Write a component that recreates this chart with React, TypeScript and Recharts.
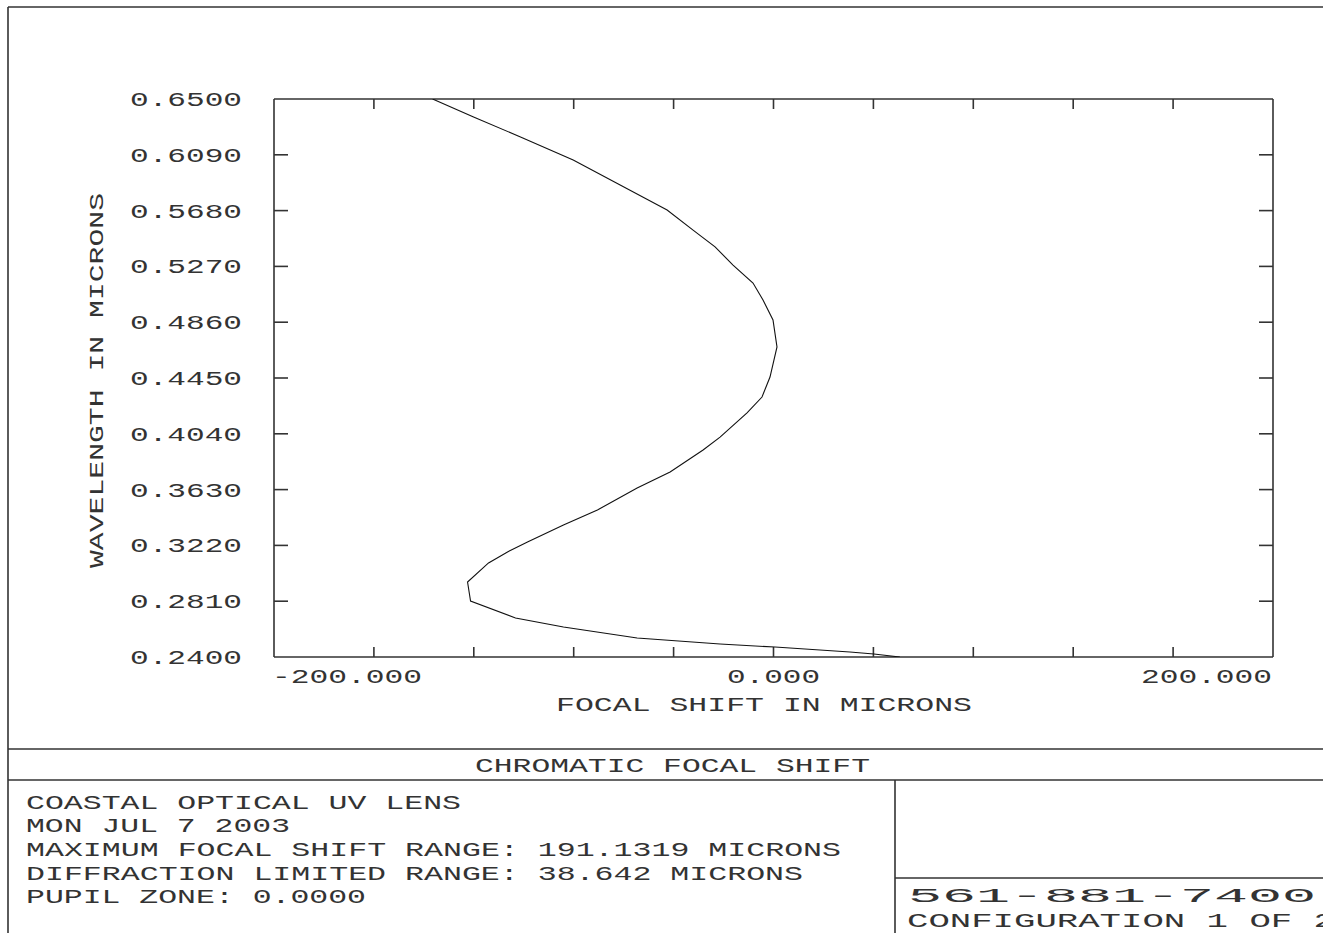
import React from "react";
import { ScatterChart, Scatter, XAxis, YAxis } from "recharts";

// Wavelength (microns) along the curve, from top to bottom
const wavelengths = [
  0.65, 0.6368, 0.6221, 0.6052, 0.5868, 0.5684, 0.5537, 0.5413, 0.528, 0.5148,
  0.5023, 0.4876, 0.4678, 0.4457, 0.431, 0.4193, 0.4016, 0.3921, 0.3759, 0.3642,
  0.348, 0.337, 0.3245, 0.3172, 0.3091, 0.2951, 0.2811, 0.2687, 0.262, 0.254,
  0.2496, 0.2473, 0.2437, 0.2422, 0.24,
];
// Focal shift (microns) for each wavelength above
const focalShift = [
  -136.5, -120.1, -101.3, -80.2, -61.4, -42.6, -32.2, -23.4, -16.2, -8.2,
  -4.2, -0.2, 1.4, -1.4, -4.6, -10.6, -21.4, -28.2, -41.4, -54.6,
  -70.5, -84.1, -98.5, -106.5, -114.1, -122.5, -121.3, -103.3, -84.1, -54.6,
  -21.4, 0.6, 30.6, 40.2, 50.6,
];

const xTicks = [-200, -160, -120, -80, -40, 0, 40, 80, 120, 160, 200];
const xInnerTicks = [-160, -120, -80, -40, 0, 40, 80, 120, 160];
const xLabeled = [-200, 0, 200];
const yTicks = [0.24, 0.281, 0.322, 0.363, 0.404, 0.445, 0.486, 0.527, 0.568, 0.609, 0.65];
const yInnerTicks = [0.281, 0.322, 0.363, 0.404, 0.445, 0.486, 0.527, 0.568, 0.609];

const xTitle = "FOCAL SHIFT IN MICRONS";
const yTitle = "WAVELENGTH IN MICRONS";
const chartTitle = "CHROMATIC FOCAL SHIFT";
const infoLines = [
  "COASTAL OPTICAL UV LENS",
  "MON JUL 7 2003",
  "MAXIMUM FOCAL SHIFT RANGE: 191.1319 MICRONS",
  "DIFFRACTION LIMITED RANGE: 38.642 MICRONS",
  "PUPIL ZONE: 0.0000",
];
const phone = "561-881-7400";
const configText = "CONFIGURATION 1 OF 2";

const points = wavelengths.map((wl, i) => ({ wl, shift: focalShift[i] }));

const TXT: React.CSSProperties = {
  fontFamily: "'Liberation Mono', 'DejaVu Sans Mono', monospace",
  fontSize: 21,
  fill: "#333",
};
const ADV = 19;
const len = (s: string, adv = ADV) => s.length * adv - 2;

const LINE = "#333";

const YTick = (props: any) => {
  const { x, y, payload } = props;
  const label = Number(payload.value).toFixed(4);
  return (
    <text x={x} y={y + 7} textAnchor="end" textLength={len(label)} lengthAdjust="spacingAndGlyphs" style={TXT}>
      {label}
    </text>
  );
};

const XTick = (props: any) => {
  const { x, y, payload } = props;
  const v = Number(payload.value);
  if (!xLabeled.includes(v)) return <g />;
  const label = v.toFixed(3);
  const anchor = v < 0 ? "start" : v > 0 ? "end" : "middle";
  const dx = v < 0 ? -2 : v > 0 ? -1 : 0;
  return (
    <text x={x + dx} y={y + 7} textAnchor={anchor} textLength={len(label)} lengthAdjust="spacingAndGlyphs" style={TXT}>
      {label}
    </text>
  );
};

const NoLabel = () => <g />;
const NoShape = () => <g />;

export default function App() {
  return (
    <div style={{ position: "fixed", left: 0, top: 0, width: 1323, height: 933, overflow: "hidden", background: "#fff" }}>
      <ScatterChart
        width={1323}
        height={933}
        margin={{ top: 99, left: 273, right: 50, bottom: 275 }}
      >
        <XAxis
          xAxisId="x"
          dataKey="shift"
          type="number"
          domain={[-200, 200]}
          ticks={xTicks}
          interval={0}
          allowDataOverflow
          orientation="bottom"
          height={1}
          tickSize={0}
          tickMargin={19}
          tickLine={false}
          axisLine={{ stroke: LINE, strokeWidth: 1.6 }}
          tick={<XTick />}
        />
        <XAxis
          xAxisId="xb"
          dataKey="shift"
          type="number"
          domain={[-200, 200]}
          ticks={xInnerTicks}
          interval={0}
          allowDataOverflow
          orientation="bottom"
          mirror
          height={1}
          tickSize={10}
          tick={<NoLabel />}
          axisLine={false}
          tickLine={{ stroke: LINE, strokeWidth: 1.6 }}
        />
        <XAxis
          xAxisId="xt"
          dataKey="shift"
          type="number"
          domain={[-200, 200]}
          ticks={xInnerTicks}
          interval={0}
          allowDataOverflow
          orientation="top"
          mirror
          height={1}
          tickSize={10}
          tick={<NoLabel />}
          axisLine={{ stroke: LINE, strokeWidth: 1.6 }}
          tickLine={{ stroke: LINE, strokeWidth: 1.6 }}
        />
        <YAxis
          yAxisId="y"
          dataKey="wl"
          type="number"
          domain={[0.24, 0.65]}
          ticks={yTicks}
          interval={0}
          allowDataOverflow
          orientation="left"
          width={1}
          tickSize={0}
          tickMargin={32}
          tickLine={false}
          axisLine={{ stroke: LINE, strokeWidth: 1.6 }}
          tick={<YTick />}
        />
        <YAxis
          yAxisId="yl"
          dataKey="wl"
          type="number"
          domain={[0.24, 0.65]}
          ticks={yInnerTicks}
          interval={0}
          allowDataOverflow
          orientation="left"
          mirror
          width={1}
          tickSize={14}
          tick={<NoLabel />}
          axisLine={false}
          tickLine={{ stroke: LINE, strokeWidth: 1.6 }}
        />
        <YAxis
          yAxisId="yr"
          dataKey="wl"
          type="number"
          domain={[0.24, 0.65]}
          ticks={yInnerTicks}
          interval={0}
          allowDataOverflow
          orientation="right"
          mirror
          width={1}
          tickSize={14}
          tick={<NoLabel />}
          axisLine={{ stroke: LINE, strokeWidth: 1.6 }}
          tickLine={{ stroke: LINE, strokeWidth: 1.6 }}
        />
        <Scatter
          xAxisId="xb"
          yAxisId="yl"
          data={points}
          shape={NoShape}
          isAnimationActive={false}
        />
        <Scatter
          xAxisId="xt"
          yAxisId="yr"
          data={points}
          shape={NoShape}
          isAnimationActive={false}
        />
        <Scatter
          xAxisId="x"
          yAxisId="y"
          data={points}
          line={{ stroke: "#111", strokeWidth: 1.1 }}
          lineType="joint"
          shape={NoShape}
          isAnimationActive={false}
        />
      </ScatterChart>
      <svg
        width={1323}
        height={933}
        style={{ position: "absolute", left: 0, top: 0, pointerEvents: "none" }}
      >
        <g stroke={LINE} strokeWidth={1.6} fill="none">
          <line x1={8} y1={7} x2={1323} y2={7} />
          <line x1={8} y1={7} x2={8} y2={933} />
          <line x1={8} y1={749} x2={1323} y2={749} />
          <line x1={8} y1={780} x2={1323} y2={780} />
          <line x1={895} y1={780} x2={895} y2={933} />
          <line x1={895} y1={878} x2={1323} y2={878} />
        </g>
        <text x={556} y={711} textLength={len(xTitle)} lengthAdjust="spacingAndGlyphs" style={TXT}>
          {xTitle}
        </text>
        <text
          transform="translate(103, 568) rotate(-90)"
          x={0}
          y={0}
          textLength={375}
          lengthAdjust="spacingAndGlyphs"
          style={TXT}
        >
          {yTitle}
        </text>
        <text x={475} y={772} textLength={395} lengthAdjust="spacingAndGlyphs" style={TXT}>
          {chartTitle}
        </text>
        {infoLines.map((s, i) => (
          <text key={i} x={26} y={808.5 + i * 23.7} textLength={len(s)} lengthAdjust="spacingAndGlyphs" style={TXT}>
            {s}
          </text>
        ))}
        <text x={908} y={902} textLength={408} lengthAdjust="spacingAndGlyphs" style={TXT}>
          {phone}
        </text>
        <text x={907} y={926.5} textLength={len(configText, 21.5)} lengthAdjust="spacingAndGlyphs" style={TXT}>
          {configText}
        </text>
      </svg>
    </div>
  );
}
